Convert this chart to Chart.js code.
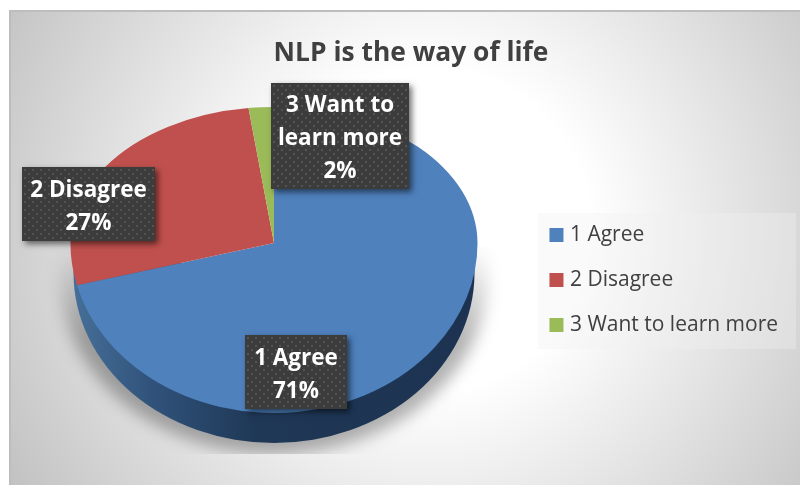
<!doctype html>
<html lang="en">
<head>
  <meta charset="utf-8" />
  <title>NLP is the way of life</title>
  <style>
    html, body { margin: 0; padding: 0; background: #fff; }
    .chartContainer { position: relative; width: 800px; height: 485px; }
  </style>
</head>
<body>
  <div class="chartContainer">
    <canvas id="pieChart"></canvas>
  </div>
  <script src="https://cdn.jsdelivr.net/npm/chart.js@4/dist/chart.umd.min.js"></script>
  <script>
    const categories = ['1 Agree', '2 Disagree', '3 Want to learn more'];
    const values = [71, 27, 2];
    const sliceColors = ['#4f81bd', '#c0504d', '#9bbb59'];
    const labelLines = [['1 Agree'], ['2 Disagree'], ['3 Want to', 'learn more']];

    const fontName = '"Open Sans", sans-serif';
    // where the tilted pie sits on the page
    const pie = { x: 274, y: 243, rx: 203.5, up: 136, down: 170, depth: 30 };
    const labelBoxes = [
      { x: 245, y: 335, w: 102, h: 74 },
      { x: 22, y: 167, w: 133, h: 74 },
      { x: 271, y: 83, w: 138, h: 106 }
    ];

    const backdrop = {
      id: 'backdrop',
      beforeDraw(chart) {
        const ctx = chart.ctx;
        ctx.save();
        let g = ctx.createRadialGradient(430, 230, 160, 430, 230, 490);
        g.addColorStop(0, '#ffffff');
        g.addColorStop(1, '#c2c2c2');
        ctx.fillStyle = g;
        ctx.fillRect(9, 10, 791, 475);
        ctx.fillStyle = '#bdbdbd';
        ctx.fillRect(9, 10, 791, 2);
        ctx.fillRect(9, 10, 2, 475);
        // legend panel
        ctx.fillStyle = 'rgba(240,240,240,0.35)';
        ctx.fillRect(538, 213, 258, 136);
        ctx.restore();
      },
      afterLayout(chart) {
        // legend goes inside its panel, not where the layout put it
        chart.legend.left -= 8;
        chart.legend.top += 47;
      }
    };

    function drawArcs(chart, ry, clipTop, clipH) {
      const ctx = chart.ctx;
      const arcs = chart.getDatasetMeta(0).data;
      const r = arcs[0].outerRadius;
      ctx.save();
      ctx.beginPath();
      ctx.rect(0, clipTop, 800, clipH);
      ctx.clip();
      ctx.translate(pie.x, pie.y);
      ctx.scale(pie.rx / r, ry / r);
      ctx.translate(-arcs[0].x, -arcs[0].y);
      arcs.forEach(a => a.draw(ctx));
      ctx.restore();
    }

    const tiltedPie = {
      id: 'tiltedPie',
      beforeDatasetsDraw(chart) {
        const ctx = chart.ctx;

        // soft shadow under the pie, cut off flat at the bottom
        ctx.save();
        ctx.beginPath();
        ctx.rect(0, 245, 800, 209);
        ctx.clip();
        ctx.filter = 'blur(8px)';
        let shade = ctx.createLinearGradient(0, 245, 0, 340);
        shade.addColorStop(0, 'rgba(0,0,0,0)');
        shade.addColorStop(1, 'rgba(0,0,0,0.3)');
        ctx.fillStyle = shade;
        ctx.beginPath();
        ctx.ellipse(pie.x, pie.y + pie.depth + 5, pie.rx + 10, pie.down + 6, 0, 0, Math.PI * 2);
        ctx.fill();
        ctx.restore();

        // side wall
        ctx.save();
        let wall = ctx.createLinearGradient(72, 0, 478, 0);
        wall.addColorStop(0, '#467099');
        wall.addColorStop(0.2, '#30527a');
        wall.addColorStop(0.45, '#1f3856');
        wall.addColorStop(1, '#1c3250');
        ctx.fillStyle = wall;
        ctx.beginPath();
        ctx.rect(0, pie.y + 20, 800, 220);
        ctx.clip();
        ctx.beginPath();
        ctx.ellipse(pie.x, pie.y + pie.depth, pie.rx - 3, pie.down, 0, 0, Math.PI * 2);
        ctx.fill();
        ctx.restore();

        drawArcs(chart, pie.up, 0, pie.y);
        drawArcs(chart, pie.down, pie.y, 485 - pie.y);
        return false;
      }
    };

    // dark dotted boxes with the name and percentage
    const sliceLabels = {
      id: 'sliceLabels',
      afterDraw(chart) {
        const ctx = chart.ctx;
        const total = values.reduce((a, b) => a + b, 0);
        labelBoxes.forEach((b, i) => {
          ctx.save();
          ctx.shadowColor = 'rgba(0,0,0,0.55)';
          ctx.shadowBlur = 6;
          ctx.shadowOffsetX = 3;
          ctx.shadowOffsetY = 3;
          ctx.fillStyle = '#3c3c3c';
          ctx.fillRect(b.x, b.y, b.w, b.h);
          ctx.restore();

          ctx.save();
          ctx.fillStyle = '#545454';
          let row = 0;
          for (let y = b.y + 2; y < b.y + b.h - 1; y += 4) {
            for (let x = b.x + (row % 2 ? 6 : 2); x < b.x + b.w - 1; x += 8) {
              ctx.fillRect(x, y, 2, 2);
            }
            row++;
          }
          ctx.fillStyle = '#fff';
          ctx.font = 'bold 22.5px ' + fontName;
          ctx.textAlign = 'center';
          ctx.textBaseline = 'middle';
          const lines = labelLines[i].concat(Math.round(values[i] / total * 100) + '%');
          const step = 33;
          const top = b.y + b.h / 2 + 3 - (lines.length - 1) * step / 2;
          lines.forEach((t, n) => ctx.fillText(t, b.x + b.w / 2, top + n * step));
          ctx.restore();
        });
      }
    };

    new Chart(document.getElementById('pieChart'), {
      type: 'pie',
      data: {
        labels: categories,
        datasets: [{ data: values, backgroundColor: sliceColors, borderWidth: 0 }]
      },
      options: {
        responsive: true,
        maintainAspectRatio: false,
        animation: false,
        layout: { padding: { left: 26, right: 4, top: 38, bottom: 10 } },
        plugins: {
          tooltip: { enabled: false },
          title: {
            display: true,
            text: 'NLP is the way of life',
            color: '#404040',
            font: { family: fontName, size: 26.4, weight: 'bold' },
            padding: { top: 0, bottom: 10 }
          },
          legend: {
            position: 'right',
            labels: {
              // thick outline on a small box keeps the text close to the swatch
              boxWidth: 6,
              boxHeight: 6,
              padding: 24,
              color: '#404040',
              font: { family: fontName, size: 21 },
              generateLabels(chart) {
                return Chart.overrides.pie.plugins.legend.labels.generateLabels(chart).map(item => {
                  item.strokeStyle = item.fillStyle;
                  item.lineWidth = 8;
                  return item;
                });
              }
            }
          }
        }
      },
      plugins: [backdrop, tiltedPie, sliceLabels]
    });
  </script>
</body>
</html>
